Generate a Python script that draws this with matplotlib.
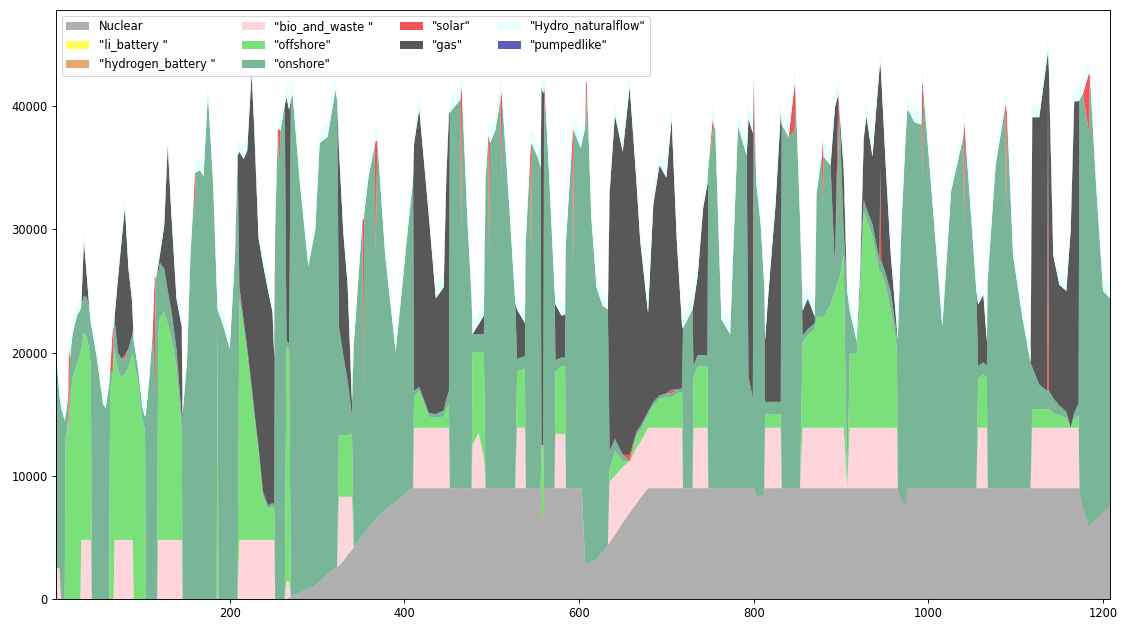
import matplotlib.pyplot as plt
import numpy as np

# hour index (sampled where the picture changes)
x = [1, 5, 7, 11, 12, 15, 16, 17, 20, 25, 29, 30, 33, 36, 39, 41,
     42, 48, 55, 58, 62, 63, 66, 67, 68, 72, 76, 80, 84, 88, 89,
     90, 95, 100, 103, 104, 108, 112, 114, 115, 117, 118, 120, 125, 129, 133, 139, 145, 146,
     151, 155, 159, 160, 161, 166, 170, 175, 181, 185, 186, 187, 193, 200, 206, 209,
     211, 216, 220, 225, 228, 233, 238, 244, 249, 251, 252, 255, 257, 258, 263,
     265, 268, 270, 272, 280, 290, 298, 303, 312, 321, 323, 325, 330, 335, 340, 342,
     352, 353, 354, 359, 366, 367, 369, 378, 390, 397, 405, 410, 411, 417, 428, 436, 445, 448, 451, 452,
     464, 465, 466, 472, 477, 478, 485, 491, 493, 496, 497, 498, 504, 510, 511, 512, 520, 527, 529, 538, 539,
     544, 545, 546, 553, 556, 557, 559, 560, 561, 566, 572, 573, 580, 584, 585, 592, 593, 594, 602, 603,
     607, 608, 609, 614, 620, 627, 633, 635, 641, 650, 658, 666, 670, 679,
     685, 692, 700, 706, 712, 718, 719, 730, 731, 736, 742, 747, 748, 753, 754, 756,
     763, 773, 782, 792, 794, 799, 800, 801, 803, 808, 812, 813, 817, 825, 831, 832,
     840, 847, 848, 853, 856, 862, 870, 872, 878, 879, 880, 888, 893, 897, 898, 903, 907,
     910, 918, 922, 926, 929, 936, 944, 945, 946, 951, 957, 964, 965, 969, 974, 976,
     984, 992, 993, 994, 1003, 1016, 1026, 1040, 1041, 1042, 1055, 1057, 1063, 1067, 1068,
     1077, 1088, 1089, 1090, 1097, 1108, 1117, 1119, 1127, 1136, 1137, 1138,
     1143, 1150, 1158, 1163, 1167, 1172, 1173, 1177, 1184, 1185, 1192, 1200, 1208]

nuclear = [0, 0, 0, 0, 0, 0, 0, 0, 0, 0, 0, 0, 0, 0, 0, 0,
           0, 0, 0, 0, 0, 0, 0, 0, 0, 0, 0, 0, 0, 0, 0,
           0, 0, 0, 0, 0, 0, 0, 0, 0, 0, 0, 0, 0, 0, 0, 0, 0, 0,
           0, 0, 0, 0, 0, 0, 0, 0, 0, 0, 0, 0, 0, 0, 0, 0,
           0, 0, 0, 0, 0, 0, 0, 0, 0, 0, 0, 0, 0, 0, 0,
           0, 100, 200, 300, 500, 800, 1100, 1400, 2000, 2500, 2600, 2700, 3100, 3600, 4000, 4200,
           5100, 5200, 5300, 5800, 6300, 6400, 6600, 7200, 7900, 8300, 8800, 9000, 9000, 9000, 9000, 9000, 9000, 9000, 9000, 9000,
           9000, 9000, 9000, 9000, 9000, 9000, 9000, 9000, 9000, 9000, 9000, 9000, 9000, 9000, 9000, 9000, 9000, 9000, 9000, 9000, 9000,
           9000, 9000, 9000, 9000, 9000, 9000, 9000, 9000, 9000, 9000, 9000, 9000, 9000, 9000, 9000, 9000, 9000, 9000, 9000, 9000,
           2900, 2800, 2800, 3000, 3200, 3800, 4400, 4600, 5200, 6200, 7000, 7800, 8200, 9000,
           9000, 9000, 9000, 9000, 9000, 9000, 9000, 9000, 9000, 9000, 9000, 9000, 9000, 9000, 9000, 9000,
           9000, 9000, 9000, 9000, 9000, 9000, 9000, 9000, 9000, 9000, 9000, 9000, 9000, 9000, 9000, 9000,
           9000, 9000, 9000, 9000, 9000, 9000, 9000, 9000, 9000, 9000, 9000, 9000, 9000, 9000, 9000, 9000, 9000,
           9000, 9000, 9000, 9000, 9000, 9000, 9000, 9000, 9000, 9000, 9000, 9000, 9000, 9000, 9000, 9000,
           9000, 9000, 9000, 9000, 9000, 9000, 9000, 9000, 9000, 9000, 9000, 9000, 9000, 9000, 9000,
           9000, 9000, 9000, 9000, 9000, 9000, 9000, 9000, 9000, 9000, 9000, 9000,
           9000, 9000, 9000, 9000, 9000, 9000, 9000, 9000, 9000, 9000, 9000, 8000, 7600]

li_battery = [0] * len(x)  # never shows in the picture

hydrogen_battery = [0, 0, 0, 0, 0, 0, 0, 0, 0, 0, 0, 0, 0, 0, 0, 0,
                    0, 0, 0, 0, 0, 0, 0, 0, 0, 0, 0, 0, 0, 0, 0,
                    0, 0, 0, 0, 0, 0, 0, 0, 0, 0, 0, 0, 0, 0, 0, 0, 0, 0,
                    0, 0, 0, 0, 0, 0, 0, 0, 0, 0, 0, 0, 0, 0, 0, 0,
                    0, 0, 0, 0, 0, 0, 0, 0, 0, 0, 0, 0, 0, 0, 0,
                    0, 0, 0, 0, 0, 0, 0, 0, 0, 0, 0, 0, 0, 0, 0, 0,
                    0, 0, 0, 0, 0, 0, 0, 0, 0, 0, 0, 0, 0, 0, 0, 0, 0, 0, 0, 0,
                    0, 0, 0, 0, 0, 0, 0, 0, 0, 0, 0, 0, 0, 0, 0, 0, 0, 0, 0, 0, 0,
                    0, 0, 0, 0, 0, -2300, -2300, 0, 0, 0, 0, 0, 0, 0, 0, 0, 0, 0, 0, 0,
                    0, 0, 0, 0, 0, 0, 0, 0, 0, 0, 0, 0, 0, 0,
                    0, 0, 0, 0, 0, 0, 0, 0, 0, 0, 0, 0, 0, 0, 0, 0,
                    0, 0, 0, 0, 0, 0, 0, 0, -600, -600, -600, 0, 0, 0, 0, 0,
                    0, 0, 0, 0, 0, 0, 0, 0, 0, 0, 0, 0, 0, 0, 0, 0, 0,
                    0, 0, 0, 0, 0, 0, 0, 0, 0, 0, 0, 0, 0, -1000, -1400, 0,
                    0, 0, 0, 0, 0, 0, 0, 0, 0, 0, 0, 0, 0, 0, 0,
                    0, 0, 0, 0, 0, 0, 0, 0, 0, 0, 0, 0,
                    0, 0, 0, 0, 0, 0, 0, -1500, -3200, -3000, -2500, -1000, 0]

bio_and_waste = [2500, 2500, 0, 0, 0, 0, 0, 0, 0, 0, 0, 4800, 4800, 4800, 4800, 4800,
                 0, 0, 0, 0, 0, 0, 0, 0, 4800, 4800, 4800, 4800, 4800, 4800, 4800,
                 0, 0, 0, 0, 0, 0, 0, 0, 0, 0, 4800, 4800, 4800, 4800, 4800, 4800, 4800, 0,
                 0, 0, 0, 0, 0, 0, 0, 0, 0, 0, 0, 0, 0, 0, 0, 0,
                 4800, 4800, 4800, 4800, 4800, 4800, 4800, 4800, 4800, 4800, 0, 0, 0, 0, 0,
                 1500, 1300, 0, 0, 0, 0, 0, 0, 0, 0, 0, 5600, 5200, 4700, 4300, 0,
                 0, 0, 0, 0, 0, 0, 0, 0, 0, 0, 0, 0, 4900, 4900, 4900, 4900, 4900, 4900, 4900, 0,
                 0, 0, 0, 0, 0, 3500, 4500, 2500, 0, 0, 0, 0, 0, 0, 0, 0, 0, 0, 4900, 4900, 0,
                 0, 0, 0, 0, 0, 0, 0, 0, 0, 0, 0, 4400, 4400, 4400, 0, 0, 0, 0, 0, 0,
                 0, 0, 0, 0, 0, 0, 0, 4900, 4800, 4500, 4200, 4500, 4500, 4900,
                 4900, 4900, 4900, 4900, 4900, 4900, 0, 0, 4900, 4900, 4900, 4900, 0, 0, 0, 0,
                 0, 0, 0, 0, 0, 0, 0, 0, 0, 0, 0, 4900, 4900, 4900, 4900, 0,
                 0, 0, 0, 0, 4900, 4900, 4900, 4900, 4900, 4900, 4900, 4900, 4900, 4900, 4900, 4900, 0,
                 4900, 4900, 4900, 4900, 4900, 4900, 4900, 4900, 4900, 4900, 4900, 4900, 0, 0, 0, 0,
                 0, 0, 0, 0, 0, 0, 0, 0, 0, 0, 0, 4900, 4900, 4900, 0,
                 0, 0, 0, 0, 0, 0, 0, 4900, 4900, 4900, 4900, 4900,
                 4900, 4900, 4900, 4900, 4900, 4900, 0, 0, 0, 0, 0, 0, 0]

offshore = [0, 0, 0, 0, 13000, 14500, 13100, 15500, 18000, 19000, 20000, 15500, 16800, 16500, 15500, 14000,
            0, 0, 0, 0, 0, 17000, 18300, 19500, 15500, 13700, 13200, 13500, 14000, 15000, 15000,
            19500, 17500, 14500, 13800, 0, 0, 0, 0, 0, 0, 16500, 18000, 18500, 17500, 16500, 14000, 9000, 0,
            0, 0, 0, 0, 0, 0, 0, 0, 0, 0, 23000, 0, 0, 0, 0, 0,
            19500, 17000, 15000, 12000, 10000, 7000, 3500, 2500, 2700, 2500, 0, 0, 0, 0, 0,
            19000, 18800, 0, 0, 0, 0, 0, 0, 0, 0, 0, 5000, 5000, 5000, 5100, 0,
            0, 0, 0, 0, 0, 0, 0, 0, 0, 0, 0, 0, 2500, 3000, 900, 800, 900, 1500, 2000, 0,
            0, 0, 0, 0, 0, 7500, 6500, 8500, 0, 0, 0, 0, 0, 0, 0, 0, 0, 0, 4600, 4800, 0,
            0, 0, 0, 0, 0, 5800, 5800, 0, 0, 0, 0, 5000, 5500, 5500, 0, 0, 0, 0, 0, 0,
            0, 0, 0, 0, 0, 0, 0, 1000, 2000, 500, 0, 1000, 1000, 1000,
            1800, 2300, 2500, 2500, 2800, 2900, 0, 0, 4000, 5000, 5000, 5000, 0, 0, 0, 0,
            0, 0, 0, 0, 0, 0, 0, 0, 0, 0, 0, 1100, 1100, 1100, 1100, 0,
            0, 0, 0, 0, 7000, 7500, 8000, 9000, 9000, 9000, 9000, 10000, 11000, 12000, 12000, 14000, 0,
            6000, 6000, 11000, 17500, 17000, 15500, 12600, 12600, 12600, 11500, 9500, 6500, 0, 0, 0, 0,
            0, 0, 0, 0, 0, 0, 0, 0, 0, 0, 0, 4000, 4300, 4000, 0,
            0, 0, 0, 0, 0, 0, 0, 1500, 1500, 1500, 1500, 1500,
            1200, 1000, 800, 0, 700, 1000, 0, 0, 0, 0, 0, 0, 0]

onshore = [17500, 14000, 15500, 14500, 1800, 2000, 0, 4000, 3500, 4000, 3500, 3500, 3000, 3200, 3500, 3500,
           22000, 19500, 15800, 15500, 17500, 1500, 0, 2500, 2500, 1500, 1500, 1200, 1500, 1500, 2000,
           1500, 1200, 1000, 1000, 15000, 18000, 22000, 16300, 26000, 26500, 5000, 4500, 3500, 2700, 2200, 1500, 1000, 15000,
           19200, 27900, 33000, 31000, 34600, 34800, 34300, 41000, 33700, 25500, 500, 23300, 22100, 20300, 27900, 36000,
           1000, 800, 600, 500, 500, 500, 400, 300, 300, 300, 30000, 38100, 35000, 38000, 40100,
           500, 500, 40300, 40700, 33500, 26200, 28900, 35600, 35500, 38800, 37900, 8800, 6500, 4400, 1500, 16400,
           25700, 11700, 26000, 28500, 30500, 21500, 30600, 20700, 12200, 16700, 22000, 25000, 500, 300, 300, 300, 500, 800, 1000, 30500,
           31500, 20400, 32000, 22000, 15400, 1500, 1500, 1500, 25000, 28500, 18500, 28000, 29000, 31500, 25000, 31500, 23000, 15000, 1000, 1000, 20000,
           27000, 19000, 27900, 26800, 26000, 0, 0, 29600, 32000, 25000, 16000, 1000, 700, 700, 20000, 28000, 17400, 29000, 27600, 28000,
           35300, 35300, 39000, 28000, 22100, 20000, 19100, 1500, 1000, 500, 0, 300, 300, 300,
           300, 300, 300, 300, 300, 300, 13000, 14500, 1000, 900, 900, 900, 26000, 29000, 29500, 29100,
           13700, 12500, 29400, 27000, 9000, 7300, 24700, 30000, 25300, 22000, 17200, 1000, 1000, 1000, 1000, 29500,
           28500, 29000, 32000, 22000, 500, 500, 500, 10000, 13100, 8900, 13000, 11300, 2000, 11000, 14000, 2000, 16000,
           3500, 1000, 1500, 1000, 800, 1000, 1000, 1000, 1000, 1000, 1500, 1000, 12000, 22000, 30000, 30800,
           29700, 29500, 25000, 32500, 24700, 13100, 24100, 28500, 21000, 29000, 16000, 1000, 1000, 1000, 17000,
           26200, 31000, 22000, 30500, 18900, 13700, 10200, 3400, 2000, 1500, 1500, 1500,
           1200, 800, 500, 0, 500, 1000, 31500, 33500, 32000, 36500, 27200, 18000, 16800]

solar = [0, 0, 0, 0, 0, 0, 7600, 0, 0, 0, 0, 0, 0, 0, 0, 0,
         0, 0, 0, 0, 0, 0, 3700, 0, 0, 0, 0, 300, 0, 0, 0,
         0, 0, 0, 0, 0, 0, 0, 10000, 0, 0, 0, 0, 0, 0, 0, 0, 0, 0,
         0, 0, 0, 3600, 0, 0, 0, 0, 0, 0, 0, 0, 0, 0, 0, 0,
         0, 0, 0, 0, 0, 0, 0, 0, 0, 0, 0, 0, 3100, 0, 0,
         0, 0, 0, 0, 0, 0, 0, 0, 0, 0, 0, 0, 0, 0, 0, 0,
         0, 13900, 0, 0, 0, 9300, 0, 0, 0, 0, 0, 0, 0, 0, 0, 0, 0, 0, 0, 0,
         0, 12200, 0, 0, 0, 0, 0, 0, 0, 0, 10000, 0, 0, 0, 7300, 0, 0, 0, 0, 0, 0,
         0, 8900, 0, 0, 0, 0, 0, 3000, 0, 0, 0, 0, 0, 0, 0, 0, 11700, 0, 0, 0,
         0, 4100, 0, 0, 0, 0, 0, 0, 0, 0, 500, 0, 0, 0,
         0, 0, 0, 300, 0, 0, 0, 0, 0, 0, 0, 0, 0, 1000, 0, 0,
         0, 0, 0, 0, 0, 0, 8500, 0, 0, 0, 0, 0, 0, 0, 0, 0,
         0, 3900, 0, 0, 0, 0, 0, 0, 0, 5500, 0, 0, 0, 4100, 0, 0, 0,
         0, 0, 0, 0, 0, 0, 0, 7600, 0, 0, 0, 0, 0, 0, 0, 0,
         0, 0, 8200, 0, 0, 0, 0, 0, 8700, 0, 0, 0, 0, 0, 0,
         0, 0, 9100, 0, 0, 0, 0, 0, 0, 0, 24100, 0,
         0, 0, 0, 0, 0, 0, 0, 0, 4900, 0, 0, 0, 0]

gas = [0, 0, 0, 0, 0, 0, 0, 0, 0, 0, 0, 0, 4500, 2000, 0, 0,
       0, 0, 0, 0, 0, 0, 0, 0, 0, 6000, 9500, 12000, 6500, 3000, 1000,
       0, 0, 0, 0, 0, 0, 0, 0, 0, 0, 700, 600, 3500, 11900, 7900, 4100, 7300, 0,
       0, 0, 0, 0, 0, 0, 0, 0, 0, 0, 0, 0, 0, 0, 0, 0,
       11000, 13100, 16000, 25400, 23000, 17000, 18500, 17400, 15500, 12000, 0, 0, 0, 0, 0,
       19700, 19000, 0, 0, 0, 0, 0, 0, 0, 0, 0, 14500, 10000, 7800, 1000, 0,
       0, 0, 0, 0, 0, 0, 0, 0, 0, 0, 0, 0, 20000, 22600, 16000, 9400, 10000, 18000, 22500, 0,
       0, 0, 0, 0, 0, 0, 800, 1500, 0, 0, 0, 0, 0, 0, 0, 0, 0, 0, 4000, 2700, 0,
       0, 0, 0, 0, 0, 29100, 28500, 0, 0, 0, 0, 4500, 3400, 3500, 0, 0, 0, 0, 0, 0,
       0, 0, 0, 0, 0, 0, 0, 21000, 26300, 24600, 29900, 20000, 15100, 8000,
       16000, 18700, 17500, 22000, 12000, 5000, 0, 0, 5000, 6500, 11900, 13900, 0, 0, 0, 0,
       0, 0, 0, 0, 21000, 21500, 0, 0, 0, 0, 0, 5000, 9000, 16000, 23500, 0,
       0, 0, 0, 0, 2000, 2500, 500, 0, 0, 0, 0, 0, 13000, 0, 0, 5000, 0,
       0, 0, 500, 5000, 7500, 5500, 15500, 8400, 15000, 9000, 3000, 500, 0, 0, 0, 0,
       0, 0, 0, 0, 0, 0, 0, 0, 0, 0, 0, 5000, 5500, 2000, 0,
       0, 0, 0, 0, 0, 0, 0, 20300, 21700, 27000, 3500, 26100,
       11600, 9800, 9800, 16100, 25300, 24500, 0, 0, 0, 0, 0, 0, 0]

hydro = [900, 900, 900, 900, 900, 900, 900, 900, 900, 900, 900, 900, 900, 900, 900, 900,
         900, 900, 900, 900, 900, 900, 900, 900, 900, 900, 900, 900, 900, 900, 900,
         900, 900, 900, 900, 900, 900, 900, 900, 900, 900, 900, 900, 900, 900, 900, 900, 900, 900,
         1000, 1000, 1000, 1000, 1000, 1000, 1000, 1000, 1000, 1000, 1000, 1000, 1000, 1000, 1000, 1000,
         1000, 1000, 1000, 1000, 1000, 1000, 1000, 1000, 1000, 1000, 1000, 1000, 1000, 1000, 1000,
         1000, 1000, 1000, 1000, 1000, 1000, 1000, 1000, 1000, 1000, 1000, 1000, 1000, 1000, 1000, 1000,
         1000, 1000, 1000, 1000, 1000, 1000, 1000, 1000, 1000, 1000, 1000, 1000, 1000, 1000, 1000, 1000, 1000, 1000, 1000, 1000,
         1100, 1100, 1100, 1100, 1100, 1100, 1100, 1100, 1100, 1100, 1100, 1100, 1100, 1100, 1100, 1100, 1100, 1100, 1100, 1100, 1100,
         1100, 1100, 1100, 1100, 1100, 1100, 1100, 1100, 1100, 1100, 1100, 1100, 1100, 1100, 1100, 1100, 1100, 1100, 1100, 1100,
         1100, 1100, 1100, 1100, 1100, 1100, 1100, 1100, 1100, 1100, 1100, 1100, 1100, 1100,
         1100, 1100, 1100, 1100, 1100, 1100, 1100, 1100, 1100, 1100, 1100, 1100, 1100, 1100, 1100, 1100,
         1100, 1100, 1100, 1100, 1100, 1100, 1100, 1100, 1100, 1100, 1100, 1100, 1100, 1100, 1100, 1100,
         1100, 1100, 1100, 1100, 1100, 1100, 1100, 1100, 1100, 1100, 1100, 1100, 1100, 1100, 1100, 1100, 1100,
         1100, 1100, 1100, 1100, 1100, 1100, 1100, 1100, 1100, 1100, 1100, 1100, 1100, 1100, 1100, 1100,
         1000, 1000, 1000, 1000, 1000, 1000, 1000, 1000, 1000, 1000, 1000, 1000, 1000, 1000, 1000,
         1000, 1000, 1000, 1000, 1000, 1000, 1000, 1000, 1000, 1000, 1000, 1000,
         1000, 1000, 1000, 1000, 1000, 1000, 1000, 1000, 1000, 1000, 1000, 1000, 1000]

pumpedlike = [0] * len(x)  # never shows in the picture

labels = ['Nuclear', '"li_battery "', '"hydrogen_battery "', '"bio_and_waste "',
          '"offshore"', '"onshore"', '"solar"', '"gas"', '"Hydro_naturalflow"', '"pumpedlike"']
colors = ['#afafaf', '#ffff55', '#e9a56f', '#ffd5dc', '#7ae07a', '#78b697',
          '#f25555', '#585858', '#e6ffff', '#5f5fba']

series = [nuclear, li_battery, hydrogen_battery, bio_and_waste, offshore,
          onshore, solar, gas, hydro, pumpedlike]
for s in series:
    assert len(s) == len(x), len(s)

fig, ax = plt.subplots(figsize=(1126 / 83, 626 / 83), dpi=83)
ax.stackplot(x, *series, labels=labels, colors=colors)
ax.set_xlim(1, 1208)
ax.set_ylim(0, 47800)
ax.legend(loc='upper left', ncol=4, columnspacing=2.3)
fig.subplots_adjust(left=0.0497, right=0.9858, bottom=0.0431, top=0.984)
fig.savefig('out.png', dpi=83)
